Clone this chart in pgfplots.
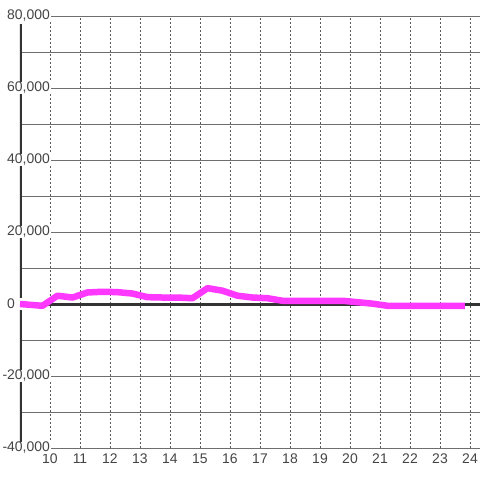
\documentclass[border=0pt]{standalone}
\usepackage{fontspec}
\setmainfont{Liberation Sans}
\usepackage{pgfplots}
\pgfplotsset{compat=1.18}
\definecolor{linepink}{RGB}{255,56,255}
\definecolor{axisdark}{RGB}{51,51,51}
\definecolor{gridgray}{RGB}{110,110,110}
\definecolor{dotgray}{RGB}{90,90,90}
\definecolor{labelgray}{RGB}{68,68,68}

\begin{document}
\begin{tikzpicture}
\begin{axis}[
    at={(0,0)}, anchor=south west,
    scale only axis,
    width=460bp, height=432bp,
    xmin=9, xmax=24.3333,
    ymin=-40000, ymax=80000,
    axis line style={draw=none},
    major tick length=0pt, minor tick length=0pt,
    scaled y ticks=false,
    xtick={10,11,...,24},
    xticklabels={10,11,12,13,14,15,16,17,18,19,20,21,22,23,24},
    ytick={-40000,-20000,...,80000},
    minor ytick={-30000,-10000,10000,30000,50000,70000},
    yticklabels={{\llap{-}40,000},{\llap{-}20,000},{0},{20,000},{40,000},{60,000},{80,000}},
    xmajorgrids, ymajorgrids, yminorgrids,
    y grid style={gridgray, line width=0.9bp},
    x grid style={dotgray, line width=0.8bp, dash pattern=on 2bp off 2bp},
    every tick label/.append style={font=\fontsize{14}{16}\selectfont, text=labelgray},
    every y tick label/.append style={anchor=west, xshift=-14bp, fill=white, inner xsep=1bp, inner ysep=0pt},
    every x tick label/.append style={yshift=-2bp},
]
\draw[axisdark, line width=3bp] (axis cs:9,0) -- (axis cs:24.3333,0);
% left axis bar, broken where the tick labels sit
\draw[axisdark, line width=3bp]
    (axis cs:9,77800) -- (axis cs:9,61700)
    (axis cs:9,58300) -- (axis cs:9,41700)
    (axis cs:9,38300) -- (axis cs:9,21700)
    (axis cs:9,18300) -- (axis cs:9,1700)
    (axis cs:9,-1700) -- (axis cs:9,-18300)
    (axis cs:9,-21700) -- (axis cs:9,-38300);

\addplot[linepink, line width=6.5bp, line join=round, line cap=butt] coordinates {
    (9.0,0) (9.75,-500) (10.25,2300) (10.75,1800) (11.25,3200) (11.75,3400)
    (12.25,3300) (12.75,2900) (13.25,1900) (13.75,1800) (14.25,1800) (14.75,1600)
    (15.25,4400) (15.75,3700) (16.25,2300) (16.75,1800) (17.25,1600) (17.75,900)
    (18.25,900) (18.75,900) (19.25,900) (19.75,900) (20.25,500) (20.75,100)
    (21.25,-500) (21.75,-500) (22.25,-500) (22.75,-500) (23.25,-500) (23.83,-500)
};
\end{axis}
\pgfresetboundingbox
\useasboundingbox (-20bp,-32bp) rectangle (460bp,448bp);
\end{tikzpicture}
\end{document}
